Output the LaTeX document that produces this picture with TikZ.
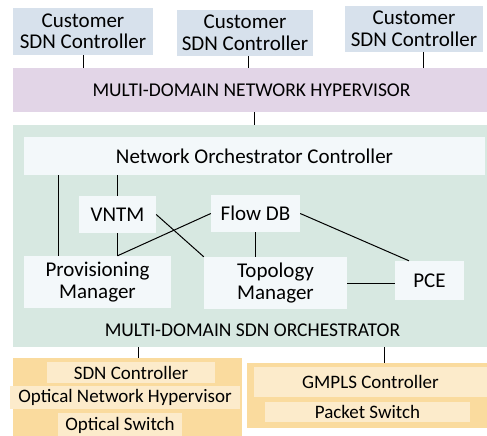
\documentclass[tikz,border=0pt]{standalone}
\usepackage{fontspec}
\setmainfont{Carlito}
\definecolor{custblue}{HTML}{D7E1EC}
\definecolor{hyppurple}{HTML}{E2D5E7}
\definecolor{orchgreen}{HTML}{D7E8E1}
\definecolor{innerwhite}{HTML}{F3F8FA}
\definecolor{orangebox}{HTML}{FADB9E}
\definecolor{orangeinner}{HTML}{FCEBCB}
\begin{document}
\begin{tikzpicture}[x=1pt,y=-1pt,
  box/.style={inner sep=0pt, align=center, font=\fontsize{21}{21.5}\selectfont},
  caps/.style={inner sep=0pt, align=center, font=\fontsize{19.5}{21}\selectfont},
  cust/.style={box, fill=custblue},
  inner/.style={box, fill=innerwhite},
  obox/.style={box, fill=orangebox},
  oinner/.style={box, fill=orangeinner, font=\fontsize{19}{20}\selectfont},
  link/.style={draw=black, line width=1pt}]
\useasboundingbox (0,0) rectangle (487,436);
\begin{scope}
\clip (0,0) rectangle (487,436);
% customers
\node[cust, minimum width=140pt, minimum height=47pt] (c1) at (83,31.5) {Customer\\SDN Controller};
\node[cust, minimum width=136pt, minimum height=46pt] (c2) at (245,33) {Customer\\SDN Controller};
\node[cust, minimum width=138pt, minimum height=46pt] (c3) at (414,29) {Customer\\SDN Controller};
% hypervisor
\node[caps, fill=hyppurple, minimum width=474pt, minimum height=44pt] (hyp) at (250,90) {};
\node[caps] (hyplabel) at (251.5,90) {MULTI-DOMAIN NETWORK HYPERVISOR};
% orchestrator
\node[box, fill=orchgreen, minimum width=474pt, minimum height=222pt] (orch) at (250,236) {};
\node[caps] (orchlabel) at (252.5,330) {MULTI-DOMAIN SDN ORCHESTRATOR};
\node[inner, minimum width=461pt, minimum height=38pt] (noc) at (254.5,156) {Network Orchestrator Controller};
\node[inner, minimum width=77pt, minimum height=37pt] (vntm) at (117.5,214.5) {VNTM};
\node[inner, minimum width=89pt, minimum height=37pt] (flow) at (255.5,213.5) {Flow DB};
\node[inner, minimum width=147pt, minimum height=52pt] (prov) at (97.5,282) {Provisioning\\Manager};
\node[inner, minimum width=143pt, minimum height=52pt] (topo) at (275.5,283) {Topology\\Manager};
\node[inner, minimum width=69pt, minimum height=39pt] (pce) at (429.5,280.5) {PCE};
% bottom left domain
\node[obox, minimum width=229pt, minimum height=82pt] (left) at (127.5,399) {};
\node[oinner, minimum width=168pt, minimum height=21pt] (sdnc) at (131,372.5) {SDN Controller};
\node[oinner, minimum width=230pt, minimum height=23pt] (onh) at (125,397.5) {Optical Network Hypervisor};
\node[oinner, minimum width=124pt, minimum height=25pt] (osw) at (120,425.5) {Optical Switch};
% bottom right domain
\node[obox, minimum width=240pt, minimum height=65pt] (right) at (367,395.5) {};
\node[oinner, minimum width=233pt, minimum height=30pt] (gmpls) at (370.5,382) {GMPLS Controller};
\node[oinner, minimum width=205pt, minimum height=20pt] (pkt) at (367.5,412) {Packet Switch};
% connectors
\draw[link] (c1.south) -- (c1.south |- hyp.north);
\draw[link] (c2.south -| 248,0) -- (hyp.north -| 248,0);
\draw[link] (c3.south -| 423,0) -- (hyp.north -| 423,0);
\draw[link] (hyp.south -| 254,0) -- (orch.north -| 254,0);
\draw[link] (noc.south -| 58,0) -- (prov.north -| 58,0);
\draw[link] (noc.south -| vntm.north) -- (vntm.north);
\draw[link] (vntm.south) -- (vntm.south |- prov.north);
\draw[link] (flow.west) -- (vntm.south |- prov.north);
\draw[link] (vntm.east) -- (topo.north west);
\draw[link] (flow.south) -- (flow.south |- topo.north);
\draw[link] (flow.east) -- (pce.north -| 409,0);
\draw[link] (topo.east) -- (topo.east -| pce.west);
\draw[link] (orch.south -| 138,0) -- (left.north -| 138,0);
\draw[link] (orch.south -| 384,0) -- (right.north -| 384,0);
\end{scope}
\end{tikzpicture}
\end{document}
